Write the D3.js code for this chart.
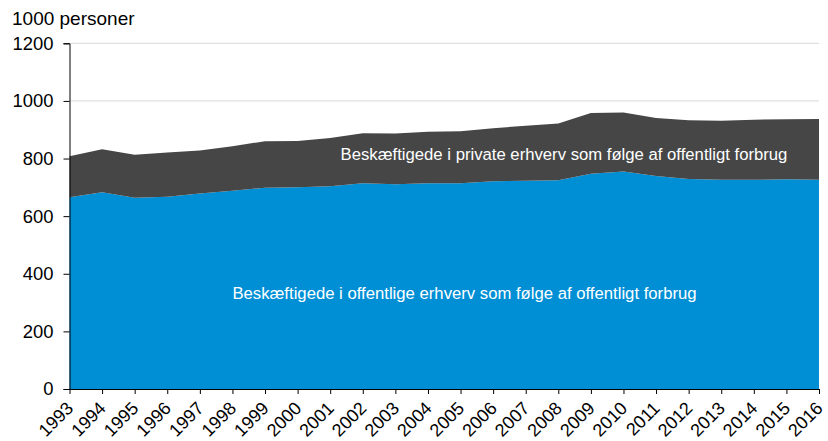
<!DOCTYPE html>
<html><head><meta charset="utf-8">
<script src="https://cdn.jsdelivr.net/npm/d3@7"></script>
<style>
body{margin:0;background:#fff;}
text{font-family:"Liberation Sans",Arial,sans-serif;}
</style></head>
<body><svg id="c" width="828" height="441"></svg>
<script>
const years = [1993,1994,1995,1996,1997,1998,1999,2000,2001,2002,2003,2004,2005,2006,2007,2008,2009,2010,2011,2012,2013,2014,2015,2016];
const offentlige = [666,683,664,667,679,688,699,700,704,714,711,714,714,721,723,725,747,755,739,729,726,726,728,726];
const private_ = [142,149,149,154,149,155,161,161,167,174,176,179,181,184,191,197,211,205,202,204,205,209,208,211];
const yTicks = [0,200,400,600,800,1000,1200];
const seriesNames = ["Beskæftigede i offentlige erhverv som følge af offentligt forbrug","Beskæftigede i private erhverv som følge af offentligt forbrug"];
const colors = ["#008fd5","#464646"];

const svg = d3.select("#c");
const x0 = 69.5, x1 = 819, yTop = 43.3, yBot = 389;
const x = d3.scaleLinear().domain([1993,2016]).range([x0,x1]);
const y = d3.scaleLinear().domain([0,1200]).range([yBot,yTop]);

const rows = years.map((yr,i)=>({year:yr, off:offentlige[i], priv:private_[i]}));
const stack = d3.stack().keys(["off","priv"]);
const layers = stack(rows);

// gridlines
svg.append("g").selectAll("line").data(yTicks.filter(d=>d>0)).join("line")
  .attr("x1",x0).attr("x2",x1).attr("y1",d=>y(d)).attr("y2",d=>y(d))
  .attr("stroke","#d9d9d9").attr("stroke-width",1);

const area = d3.area().x(d=>x(d.data.year)).y0(d=>y(d[0])).y1(d=>y(d[1]));
svg.append("g").selectAll("path").data(layers).join("path")
  .attr("d",area).attr("fill",(d,i)=>colors[i]);

// y axis
const yAxis = d3.axisLeft(y).tickValues(yTicks).tickFormat(d3.format("d")).tickSize(6).tickPadding(10);
const gy = svg.append("g").attr("transform",`translate(${x0},0)`).call(yAxis);
gy.select(".domain").attr("stroke","#000");
gy.selectAll(".tick line").attr("stroke","#000");
gy.selectAll("text").attr("font-size",18.4).attr("fill","#000").attr("font-family","Liberation Sans, Arial, sans-serif");

// x axis
const xAxis = d3.axisBottom(x).tickValues(years).tickFormat(d3.format("d")).tickSize(5).tickSizeOuter(0);
const gx = svg.append("g").attr("transform",`translate(0,${yBot})`).call(xAxis);
gx.select(".domain").attr("stroke","#000");
gx.selectAll(".tick line").attr("stroke","#000");
gx.selectAll("text").attr("font-size",18).attr("fill","#000")
  .attr("font-family","Liberation Sans, Arial, sans-serif")
  .attr("text-anchor","end").attr("dy",null).attr("y",null)
  .attr("transform","translate(1,17) rotate(-45)")
  .attr("dominant-baseline","middle");

// unit label
svg.append("text").attr("x",12).attr("y",25).attr("font-size",19).attr("fill","#000").text("1000 personer");

// series labels
svg.append("text").attr("x",564).attr("y",160).attr("text-anchor","middle").attr("font-size",16.7).attr("fill","#fff").text(seriesNames[1]);
svg.append("text").attr("x",464.5).attr("y",299).attr("text-anchor","middle").attr("font-size",16.7).attr("fill","#fff").text(seriesNames[0]);
</script></body></html>
